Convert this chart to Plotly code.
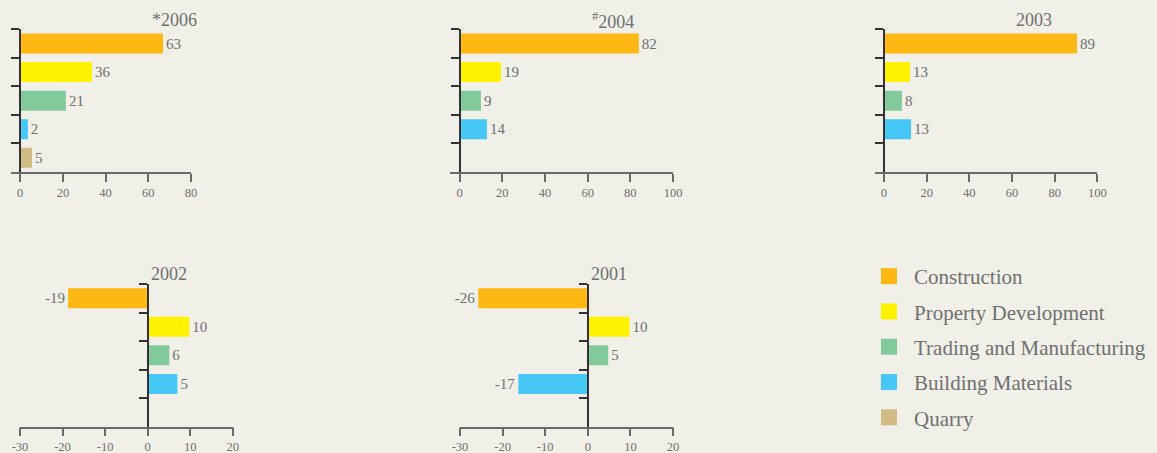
import plotly.graph_objects as go

W, H = 1157, 453

categories = ["Construction", "Property Development", "Trading and Manufacturing",
              "Building Materials", "Quarry"]
colors = ["#fdb813", "#fff200", "#82c99c", "#45c8f5", "#d2bb85"]

titles = ["*2006", "<sup>#</sup>2004", "2003", "2002", "2001"]

# bar lengths as drawn
v2006 = [66.9, 33.6, 21.4, 3.6, 5.5]
v2004 = [84.0, 19.4, 10.0, 12.8, None]
v2003 = [90.5, 12.2, 8.4, 12.7, None]
v2002 = [-18.7, 9.8, 5.1, 7.0, None]
v2001 = [-25.7, 9.8, 4.8, -16.3, None]

# printed value labels
t2006 = ["63", "36", "21", "2", "5"]
t2004 = ["82", "19", "9", "14", ""]
t2003 = ["89", "13", "8", "13", ""]
t2002 = ["-19", "10", "6", "5", ""]
t2001 = ["-26", "10", "5", "-17", ""]

ticks_pos = [0, 20, 40, 60, 80, 100]
ticks_signed = [-30, -20, -10, 0, 10, 20]

series = [v2006, v2004, v2003, v2002, v2001]
texts = [t2006, t2004, t2003, t2002, t2001]

# panel geometry in pixels: (x_left, x_right, y_top, y_bottom), x range, tick values
panels = [
    ((11, 191), (29.3, 172), [-4.3, 80], ticks_pos[:5]),
    ((450, 673), (29.3, 172), [-4.5, 100], ticks_pos),
    ((875, 1097.3), (29.3, 172), [-4.2, 100], ticks_pos),
    ((20, 232.7), (284, 426.7), [-30, 20], ticks_signed),
    ((460, 673), (284, 426.7), [-30, 20], ticks_signed),
]
title_pos = [(174, 20), (613, 20), (1034, 20), (169, 274), (609, 274)]

FONT = "Liberation Serif"
TXT = "#707070"

fig = go.Figure()
layout = {}
for i, ((xl, xr), (yt, yb), xr_, tv) in enumerate(panels):
    n = "" if i == 0 else str(i + 1)
    fig.add_trace(go.Bar(
        x=series[i], y=categories, orientation="h",
        marker=dict(color=colors, line=dict(width=0)),
        text=texts[i], textposition="outside", cliponaxis=False,
        constraintext="none",
        textfont=dict(family=FONT, size=15, color=TXT),
        xaxis="x" + n, yaxis="y" + n, showlegend=False, hoverinfo="skip",
    ))
    zero_px = xl + (0 - xr_[0]) / (xr_[1] - xr_[0]) * (xr - xl)
    layout["xaxis" + n] = dict(
        domain=[xl / W, xr / W], range=xr_, anchor="y" + n,
        showline=True, linecolor="#6a6a6a", linewidth=1.5,
        ticks="outside", ticklen=8, tickwidth=1.5, tickcolor="#6a6a6a",
        tickvals=tv, ticktext=[str(v) for v in tv],
        showgrid=False, zeroline=False, fixedrange=True,
        tickfont=dict(family=FONT, size=12.5, color=TXT),
    )
    layout["yaxis" + n] = dict(
        domain=[(H - yb) / H, (H - yt) / H], anchor="free", position=zero_px / W,
        type="category", categoryarray=categories, categoryorder="array",
        range=[4.5, -0.5], tickson="boundaries", ticks="outside", ticklen=8,
        tickwidth=1.5, tickcolor="#333333", showline=True, linecolor="#333333",
        linewidth=1.5, showticklabels=False, showgrid=False, zeroline=False,
        fixedrange=True,
    )

# legend entries
for c, col in zip(categories, colors):
    fig.add_trace(go.Scatter(
        x=[None], y=[None], mode="markers", name=c, legendgroup=c,
        marker=dict(symbol="square", size=16, color=col),
        xaxis="x", yaxis="y",
    ))

annotations = []
for (tx, ty), t in zip(title_pos, titles):
    annotations.append(dict(
        text=t, x=tx / W, y=(H - ty) / H, xref="paper", yref="paper",
        xanchor="center", yanchor="middle", showarrow=False,
        font=dict(family=FONT, size=18, color=TXT),
    ))

fig.update_layout(
    width=W, height=H, autosize=False,
    margin=dict(l=0, r=0, t=0, b=0, autoexpand=False),
    paper_bgcolor="#f0efe8", plot_bgcolor="#f0efe8",
    bargap=0.3,
    showlegend=True,
    legend=dict(
        x=864 / W, y=(H - 256) / H, xanchor="left", yanchor="top",
        font=dict(family=FONT, size=21, color=TXT),
        traceorder="grouped", tracegroupgap=5, itemwidth=40,
        bgcolor="rgba(0,0,0,0)",
    ),
    annotations=annotations,
    **layout,
)

fig.write_html(
    "out.html",
    config={"responsive": False, "displayModeBar": False},
    post_script="document.body.style.margin='0';document.body.style.overflow='hidden';"
                "document.body.style.background='#f0efe8';",
)
